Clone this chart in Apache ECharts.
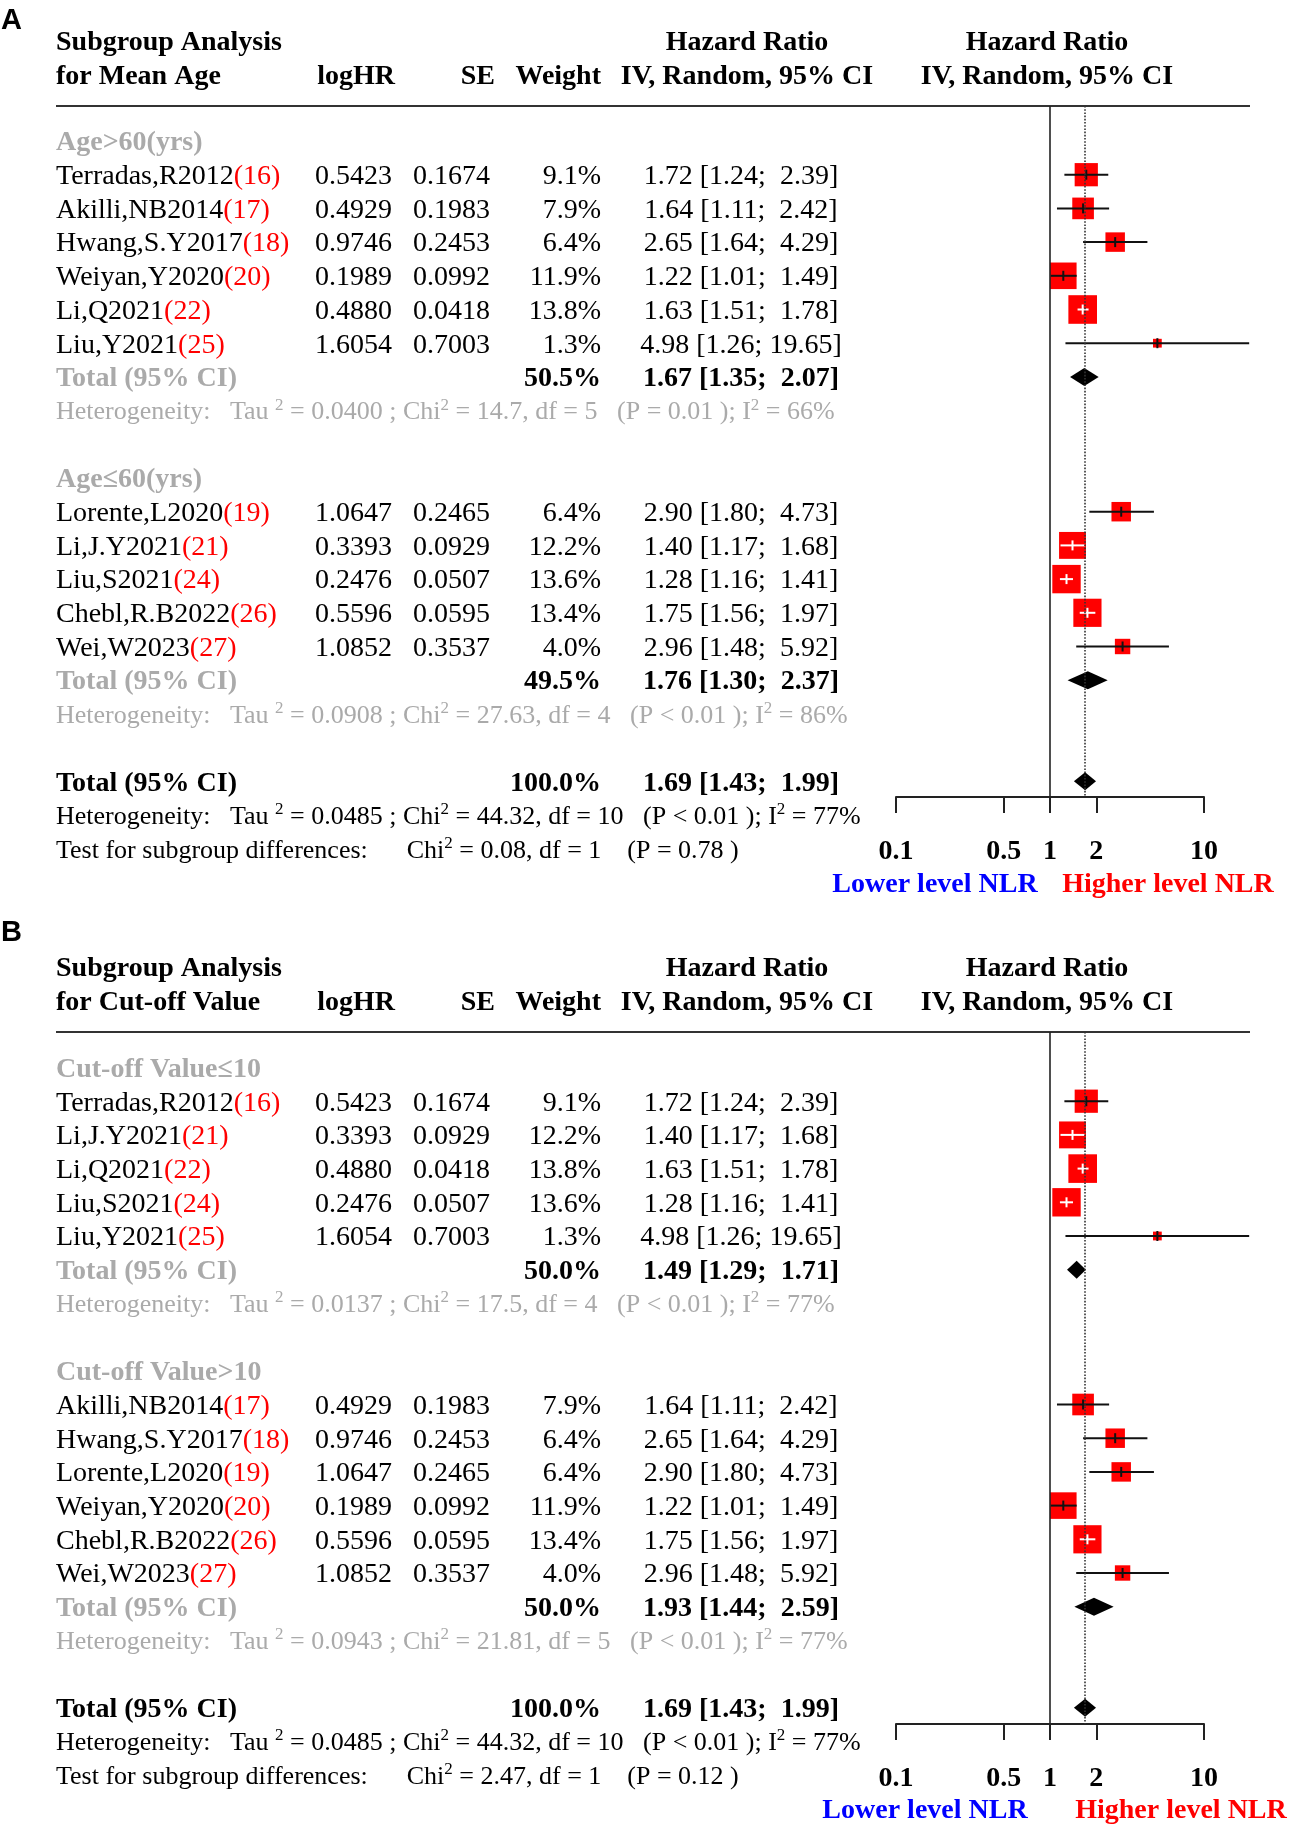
<!DOCTYPE html>
<html><head><meta charset="utf-8">
<script src="https://cdn.jsdelivr.net/npm/echarts@6/dist/echarts.min.js"></script>
<style>html,body{margin:0;padding:0;background:#fff}#chart{width:1295px;height:1832px}</style>
</head><body><div id="chart"></div>
<script>
// ---------------- data ----------------
const studyNames  = ['Terradas,R2012','Akilli,NB2014','Hwang,S.Y2017','Lorente,L2020','Weiyan,Y2020','Li,J.Y2021','Li,Q2021','Liu,S2021','Liu,Y2021','Chebl,R.B2022','Wei,W2023'];
const studyRefs   = ['16','17','18','19','20','21','22','24','25','26','27'];
const studyLogHR  = [0.5423,0.4929,0.9746,1.0647,0.1989,0.3393,0.4880,0.2476,1.6054,0.5596,1.0852];
const studySE     = [0.1674,0.1983,0.2453,0.2465,0.0992,0.0929,0.0418,0.0507,0.7003,0.0595,0.3537];
const studyWeight = [9.1,7.9,6.4,6.4,11.9,12.2,13.8,13.6,1.3,13.4,4.0];
const studyHR     = [1.72,1.64,2.65,2.90,1.22,1.40,1.63,1.28,4.98,1.75,2.96];
const studyLower  = [1.24,1.11,1.64,1.80,1.01,1.17,1.51,1.16,1.26,1.56,1.48];
const studyUpper  = [2.39,2.42,4.29,4.73,1.49,1.68,1.78,1.41,19.65,1.97,5.92];

// Panel A: mean age
const groupLabelsA  = ['Age>60(yrs)','Age\u226460(yrs)'];
const groupMembersA = [[0,1,2,4,6,8],[3,5,7,9,10]];
const groupWeightA  = [50.5,49.5];
const groupHRA      = [1.67,1.76];
const groupLowerA   = [1.35,1.30];
const groupUpperA   = [2.07,2.37];
const hetTauA = ['0.0400','0.0908'];
const hetChiA = ['14.7','27.63'];
const hetDfA  = ['5','4'];
const hetPA   = ['= 0.01','< 0.01'];
const hetI2A  = ['66%','86%'];
const testChiA = '0.08', testDfA = '1', testPA = '= 0.78';

// Panel B: cut-off value
const groupLabelsB  = ['Cut-off Value\u226410','Cut-off Value>10'];
const groupMembersB = [[0,5,6,7,8],[1,2,3,4,9,10]];
const groupWeightB  = [50.0,50.0];
const groupHRB      = [1.49,1.93];
const groupLowerB   = [1.29,1.44];
const groupUpperB   = [1.71,2.59];
const hetTauB = ['0.0137','0.0943'];
const hetChiB = ['17.5','21.81'];
const hetDfB  = ['4','5'];
const hetPB   = ['< 0.01','< 0.01'];
const hetI2B  = ['77%','77%'];
const testChiB = '2.47', testDfB = '1', testPB = '= 0.12';

// Overall (same for both panels)
const overallWeight = 100.0, overallHR = 1.69, overallLower = 1.43, overallUpper = 1.99;
const overallTau = '0.0485', overallChi = '44.32', overallDf = '10', overallP = '< 0.01', overallI2 = '77%';

const tickValues = [0.1,0.5,1,2,10];
const panelSubtitles = ['for Mean Age','for Cut-off Value'];

// ---------------- layout ----------------
const FONT = "'Liberation Serif','Times New Roman',Times,serif";
const GRAY = '#AAAAAA';
const ROW_H = 33.7;
const TEXT_DY = 2;
const PANELS = [
  {letter:'A', row0:141,   ruleY:106,  axisY:797,  head1:41,  head2:75,   letterY:21,  lowX:935, highX:1168},
  {letter:'B', row0:1067.5,ruleY:1032, axisY:1724, head1:967, head2:1001, letterY:933, lowX:925, highX:1181}
];
const COL = {left:56, logHR:392, logHRh:395, se:490, seh:495, weight:601, ci:741, cih:747, plotH:1047, plotL:896, plotW:308, ruleR:1250};
const FS = 28, FS_HET = 26;

function ciText(hr, lo, hi){
  const h = hi.toFixed(2);
  return hr.toFixed(2) + ' [' + lo.toFixed(2) + ';' + (h.length < 5 ? '  ' : ' ') + h + ']';
}
function hetText(tau, chi, df, p, i2){
  return '{t|Heterogeneity:   Tau }{s|2}{t| = ' + tau + ' ; Chi}{s|2}{t| = ' + chi + ', df = ' + df + '   (P ' + p + ' ); I}{s|2}{t| = ' + i2 + '}';
}
function testText(chi, df, p){
  return '{t|Test for subgroup differences:      Chi}{s|2}{t| = ' + chi + ', df = ' + df + '    (P ' + p + ' )}';
}

function buildTable(pi){
  const P = PANELS[pi];
  const labels = pi===0?groupLabelsA:groupLabelsB, members = pi===0?groupMembersA:groupMembersB;
  const gW = pi===0?groupWeightA:groupWeightB, gHR = pi===0?groupHRA:groupHRB, gLo = pi===0?groupLowerA:groupLowerB, gHi = pi===0?groupUpperA:groupUpperB;
  const tau = pi===0?hetTauA:hetTauB, chi = pi===0?hetChiA:hetChiB, df = pi===0?hetDfA:hetDfB, pv = pi===0?hetPA:hetPB, i2 = pi===0?hetI2A:hetI2B;
  const items = [], studies = [], diamonds = [];
  const T = (row,x,text,align,kind)=>items.push({row,x,text,align,kind});
  const h1 = (P.head1-P.row0)/ROW_H, h2 = (P.head2-P.row0)/ROW_H;
  T(h1,COL.left,'Subgroup Analysis','left','bold');
  T(h1,COL.cih,'Hazard Ratio','center','bold');
  T(h1,COL.plotH,'Hazard Ratio','center','bold');
  T(h2,COL.left,panelSubtitles[pi],'left','bold');
  T(h2,COL.logHRh,'logHR','right','bold');
  T(h2,COL.seh,'SE','right','bold');
  T(h2,COL.weight,'Weight','right','bold');
  T(h2,COL.cih,'IV, Random, 95% CI','center','bold');
  T(h2,COL.plotH,'IV, Random, 95% CI','center','bold');
  let r = 0;
  labels.forEach((lab,g)=>{
    T(r,COL.left,lab,'left','grayBold'); r++;
    members[g].forEach(i=>{
      T(r,COL.left,'{n|'+studyNames[i]+'}{r|('+studyRefs[i]+')}','left','study');
      T(r,COL.logHR,studyLogHR[i].toFixed(4),'right','reg');
      T(r,COL.se,studySE[i].toFixed(4),'right','reg');
      T(r,COL.weight,studyWeight[i].toFixed(1)+'%','right','reg');
      T(r,COL.ci,ciText(studyHR[i],studyLower[i],studyUpper[i]),'center','reg');
      studies.push([studyHR[i],studyLower[i],studyUpper[i],studyWeight[i],r]);
      r++;
    });
    T(r,COL.left,'Total (95% CI)','left','grayBold');
    T(r,COL.weight,gW[g].toFixed(1)+'%','right','bold');
    T(r,COL.ci,ciText(gHR[g],gLo[g],gHi[g]),'center','bold');
    diamonds.push([gHR[g],gLo[g],gHi[g],r]);
    r++;
    T(r,COL.left,hetText(tau[g],chi[g],df[g],pv[g],i2[g]),'left','hetGray'); r++;
    r++;
  });
  T(r,COL.left,'Total (95% CI)','left','bold');
  T(r,COL.weight,overallWeight.toFixed(1)+'%','right','bold');
  T(r,COL.ci,ciText(overallHR,overallLower,overallUpper),'center','bold');
  diamonds.push([overallHR,overallLower,overallUpper,r]);
  r++;
  T(r,COL.left,hetText(overallTau,overallChi,overallDf,overallP,overallI2),'left','het'); r++;
  T(r,COL.left,pi===0?testText(testChiA,testDfA,testPA):testText(testChiB,testDfB,testPB),'left','het'); r++;
  T(r,P.lowX,'Lower level NLR','center','blue');
  T(r,P.highX,'Higher level NLR','center','red');
  return {items, studies, diamonds};
}

function textStyle(it, y){
  const base = {text:it.text, x:it.x, y:y, align:it.align, verticalAlign:'middle', textAlign:it.align, textVerticalAlign:'middle', fontFamily:FONT};
  const k = it.kind;
  if (k==='bold')     Object.assign(base,{fontSize:FS,fontWeight:'bold',fill:'#000'});
  if (k==='grayBold') Object.assign(base,{fontSize:FS,fontWeight:'bold',fill:GRAY});
  if (k==='reg')      Object.assign(base,{fontSize:FS,fontWeight:'normal',fill:'#000'});
  if (k==='blue')     Object.assign(base,{fontSize:FS,fontWeight:'bold',fill:'#0000FF'});
  if (k==='red')      Object.assign(base,{fontSize:FS,fontWeight:'bold',fill:'#FF0000'});
  if (k==='study')    Object.assign(base,{fontSize:FS,fill:'#000',rich:{
      n:{fontSize:FS,fontFamily:FONT,fill:'#000'},
      r:{fontSize:FS,fontFamily:FONT,fill:'#FF0000'}}});
  if (k==='het' || k==='hetGray'){
    const c = k==='het' ? '#000' : GRAY;
    Object.assign(base,{fontSize:FS_HET,fill:c,rich:{
      t:{fontSize:FS_HET,fontFamily:FONT,fill:c,lineHeight:32,verticalAlign:'middle'},
      s:{fontSize:17,fontFamily:FONT,fill:c,lineHeight:32,verticalAlign:'top'}}});
  }
  return base;
}

const tables = [buildTable(0), buildTable(1)];
const chart = echarts.init(document.getElementById('chart'), null, {renderer:'canvas'});

const grids = [], xAxes = [], yAxes = [], series = [], graphics = [];
PANELS.forEach((P,pi)=>{
  grids.push({left:COL.plotL, width:COL.plotW, top:P.ruleY, height:P.axisY-P.ruleY, containLabel:false});
  xAxes.push({gridIndex:pi, type:'log', logBase:10, min:0.1, max:10, position:'bottom',
    axisLine:{show:true, onZero:false, lineStyle:{color:'#222', width:2}},
    axisTick:{show:true, inside:false, length:16, lineStyle:{color:'#222', width:2}, customValues:tickValues},
    axisLabel:{show:true, customValues:tickValues, margin:41, fontFamily:FONT, fontSize:FS, fontWeight:'bold', color:'#000',
      formatter:v=>String(+(+v).toFixed(2))},
    splitLine:{show:false}, minorTick:{show:false}, minorSplitLine:{show:false}});
  yAxes.push({gridIndex:pi, type:'value', inverse:true, show:false,
    min:(P.ruleY-P.row0)/ROW_H, max:(P.axisY-P.row0)/ROW_H, splitLine:{show:false}});
  const tb = tables[pi];
  series.push({type:'custom', name:'table'+pi, xAxisIndex:pi, yAxisIndex:pi, silent:true,
    data: tb.items.map(it=>[1,it.row]),
    renderItem:(params, api)=>{
      const it = tb.items[params.dataIndex];
      const y = api.coord([1, it.row])[1] + TEXT_DY;
      return {type:'text', style:textStyle(it, y)};
    }});
  series.push({type:'custom', name:'studies'+pi, xAxisIndex:pi, yAxisIndex:pi, silent:true,
    data: tb.studies, encode:{x:[0,1,2], y:4},
    renderItem:(params, api)=>{
      const hr=api.value(0), lo=api.value(1), hi=api.value(2), w=api.value(3), row=api.value(4);
      const c=api.coord([hr,row]), l=api.coord([lo,row]), h=api.coord([hi,row]);
      const s = 7.7*Math.sqrt(w);
      const inside = (c[0]-l[0]) < s/2 && (h[0]-c[0]) < s/2;
      const col = inside ? '#FFFFFF' : '#111111';
      return {type:'group', children:[
        {type:'rect', shape:{x:c[0]-s/2, y:c[1]-s/2, width:s, height:s}, style:{fill:'#FF0000'}},
        {type:'line', shape:{x1:l[0], y1:c[1], x2:h[0], y2:c[1]}, style:{stroke:col, lineWidth:2}},
        {type:'line', shape:{x1:c[0], y1:c[1]-5, x2:c[0], y2:c[1]+5}, style:{stroke:col, lineWidth:2}}
      ]};
    },
    markLine:{silent:true, symbol:['none','none'], label:{show:false}, animation:false,
      data:[{xAxis:1, lineStyle:{type:'solid', color:'#222', width:1.6}},
            {xAxis:overallHR, lineStyle:{type:'dotted', color:'#333', width:1.6}}]}
  });
  series.push({type:'custom', name:'diamonds'+pi, xAxisIndex:pi, yAxisIndex:pi, silent:true,
    data: tb.diamonds, encode:{x:[0,1,2], y:3},
    renderItem:(params, api)=>{
      const hr=api.value(0), lo=api.value(1), hi=api.value(2), row=api.value(3);
      const c=api.coord([hr,row]), l=api.coord([lo,row]), h=api.coord([hi,row]);
      const hh = 9;
      return {type:'polygon', shape:{points:[[l[0],c[1]],[c[0],c[1]-hh],[h[0],c[1]],[c[0],c[1]+hh]]}, style:{fill:'#000'}};
    }});
  graphics.push({type:'line', shape:{x1:COL.left, y1:P.ruleY, x2:COL.ruleR, y2:P.ruleY}, style:{stroke:'#333', lineWidth:2.2}, silent:true});
  graphics.push({type:'text', x:1, y:P.letterY, style:{text:P.letter, font:"bold 29px 'Liberation Sans', Arial, sans-serif", fill:'#000', verticalAlign:'middle', textVerticalAlign:'middle'}, silent:true});
});

chart.setOption({
  animation:false,
  backgroundColor:'#fff',
  grid:grids, xAxis:xAxes, yAxis:yAxes, series:series, graphic:graphics
});
</script></body></html>
